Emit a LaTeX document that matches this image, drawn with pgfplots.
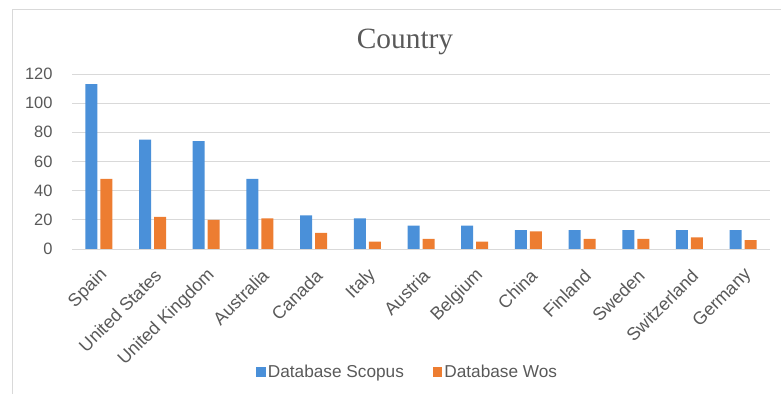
\documentclass[border=0pt]{standalone}
\usepackage{fontspec}
\setmainfont{Liberation Sans}
\newfontfamily\titlefont{Liberation Serif}
\usepackage{pgfplots}
\pgfplotsset{compat=1.18}

\definecolor{scopus}{RGB}{74,144,217}
\definecolor{wos}{RGB}{237,125,49}
\definecolor{txt}{RGB}{89,89,89}
\definecolor{gridc}{RGB}{217,217,217}

\begin{document}
\begin{tikzpicture}
  \path[use as bounding box] (0,0) rectangle (781bp,394bp);
  % chart frame
  \draw[gridc, line width=0.8bp] (12bp,0) -- (12bp,385bp) -- (781bp,385bp);
  % title
  \node[font=\titlefont\fontsize{29.5}{30}\selectfont, text=txt] at (405bp,352bp) {Country};
  \begin{axis}[
    at={(72bp,145bp)}, anchor=south west,
    scale only axis,
    width=698bp, height=175bp,
    ybar=3bp, bar width=12bp,
    xmin=-0.5, xmax=12.5,
    ymin=0, ymax=120,
    ytick={0,20,...,120},
    xtick={0,...,12},
    xticklabels={Spain,United States,United Kingdom,Australia,Canada,Italy,Austria,Belgium,China,Finland,Sweden,Switzerland,Germany},
    ymajorgrids,
    grid style={gridc, line width=0.8bp},
    axis line style={draw=none},
    major tick length=0pt,
    tick label style={text=txt},
    yticklabel style={font=\fontsize{16.5}{17}\selectfont, xshift=-16bp},
    xticklabel style={font=\fontsize{18}{18}\selectfont, xshift=8bp, yshift=-21bp, rotate=45, anchor=east},
    /pgf/number format/assume math mode=true,
    legend style={at={(0.481,-0.703)}, anchor=center, draw=none, fill=none,
      legend columns=2, font=\fontsize{17.3}{17}\selectfont, text=txt,
      /tikz/every even column/.append style={column sep=27bp}},
    legend image code/.code={\fill[#1] (-4bp,-4.7bp) rectangle (5.5bp,4.7bp);},
  ]
    \addplot[fill=scopus, draw=none] coordinates {
      (0,113) (1,75) (2,74) (3,48) (4,23) (5,21) (6,16) (7,16) (8,13) (9,13) (10,13) (11,13) (12,13)};
    \addplot[fill=wos, draw=none] coordinates {
      (0,48) (1,22) (2,20) (3,21) (4,11) (5,5) (6,7) (7,5) (8,12) (9,7) (10,7) (11,8) (12,6)};
    \legend{Database Scopus, Database Wos}
  \end{axis}
\end{tikzpicture}
\end{document}
